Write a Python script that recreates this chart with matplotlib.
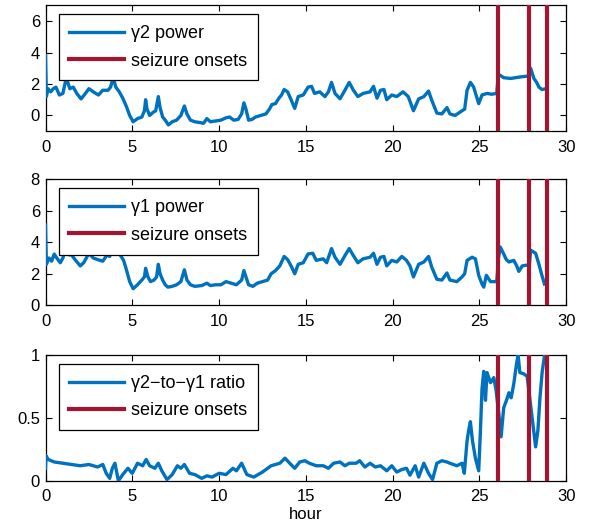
import matplotlib
matplotlib.use("Agg")
import matplotlib.pyplot as plt

plt.rcParams['font.family'] = ['Liberation Sans', 'DejaVu Sans']
plt.rcParams['axes.unicode_minus'] = True

# ---- data ----
hours_g2 = [0, 0.05, 0.15, 0.3, 0.45, 0.6, 0.8, 1.0, 1.2, 1.4, 1.6, 1.8, 2.05, 2.3, 2.5, 2.75, 3.05, 3.3, 3.6, 3.75,
            3.9, 4.05, 4.25, 4.45, 4.65, 4.85, 5.05, 5.3, 5.55, 5.7, 5.77, 5.85, 6.0, 6.2, 6.35, 6.5, 6.6, 6.75, 6.9,
            7.08, 7.3, 7.55, 7.8, 8.0, 8.15, 8.35, 8.6, 8.9, 9.1, 9.3, 9.5, 9.8, 10.1, 10.4, 10.6, 10.85, 11.1, 11.3,
            11.43, 11.55, 11.7, 11.9, 12.1, 12.4, 12.7, 12.9, 13.05, 13.25, 13.45, 13.6, 13.75, 13.95, 14.15, 14.36,
            14.56, 14.85, 15.13, 15.33, 15.5, 15.8, 16.1, 16.3, 16.48, 16.68, 16.97, 17.25, 17.5, 17.74, 18.0, 18.3,
            18.7, 18.9, 19.1, 19.3, 19.5, 19.66, 19.95, 20.24, 20.6, 20.9, 21.2, 21.5, 21.8, 22.07, 22.26, 22.55,
            22.84, 23.13, 23.3, 23.6, 24.0, 24.15, 24.29, 24.48, 24.67, 24.96, 25.15, 25.44, 25.7, 26.0, 26.08, 26.2,
            26.4, 26.8, 27.1, 27.37, 27.8, 27.95, 28.14, 28.3, 28.43, 28.6, 28.85]
gamma2 = [3.8, 1.2, 1.7, 1.5, 1.7, 1.8, 1.3, 1.4, 2.4, 1.7, 1.8, 1.4, 1.05, 1.4, 1.7, 1.5, 1.3, 1.6, 1.6, 1.8,
          2.4, 1.8, 1.5, 1.1, 0.6, 0.0, -0.4, -0.2, -0.1, 0.3, 1.0, 0.4, 0.0, 0.2, 0.3, 1.2, 0.5, -0.1, -0.3,
          -0.6, -0.4, -0.3, 0.0, 0.6, 0.1, -0.3, -0.4, -0.45, -0.5, -0.2, -0.4, -0.35, -0.3, -0.15, -0.1, -0.3,
          -0.25, 0.1, 0.8, 0.4, -0.3, -0.25, -0.1, 0.0, 0.1, 0.4, 0.7, 0.75, 1.1, 1.3, 1.65, 1.5, 1.0, 0.45,
          1.2, 1.3, 1.8, 1.85, 1.4, 1.5, 1.2, 1.5, 2.1, 1.4, 1.06, 1.6, 2.1, 1.6, 1.2, 1.4,
          1.5, 1.85, 1.1, 1.6, 1.65, 1.0, 1.3, 1.2, 1.5, 1.2, 0.3, 1.05, 1.2, 1.55, 0.95, 0.15,
          0.1, 0.5, 0.1, 0.0, 0.3, 0.4, 1.6, 2.1, 1.8, 0.75, 1.3, 1.4, 1.35, 1.4, 2.5, 2.55,
          2.4, 2.35, 2.4, 2.45, 2.5, 3.0, 2.35, 2.1, 1.8, 1.65, 1.7]

hours_g1 = [0, 0.05, 0.2, 0.35, 0.5, 0.65, 0.85, 1.0, 1.2, 1.35, 1.5, 1.7, 2.0, 2.2, 2.5, 2.75, 3.0, 3.3, 3.55,
            3.7, 3.9, 4.1, 4.3, 4.5, 4.65, 4.85, 5.05, 5.3, 5.55, 5.7, 5.77, 5.9, 6.05, 6.25, 6.4, 6.5, 6.6, 6.75,
            6.9, 7.05, 7.3, 7.55, 7.8, 8.0, 8.15, 8.35, 8.6, 9.0, 9.3, 9.5, 9.8, 10.1, 10.4, 10.7, 11.0, 11.3,
            11.43, 11.55, 11.7, 11.95, 12.2, 12.5, 12.8, 13.0, 13.25, 13.5, 13.75, 13.95, 14.15, 14.36, 14.56,
            14.85, 15.13, 15.4, 15.6, 16.0, 16.2, 16.48, 16.68, 16.97, 17.25, 17.5, 17.74, 18.0, 18.3, 18.7, 18.9,
            19.1, 19.3, 19.5, 19.66, 19.95, 20.24, 20.53, 20.8, 21.0, 21.2, 21.5, 21.8, 22.07, 22.26, 22.55, 22.84,
            23.13, 23.3, 23.7, 24.0, 24.15, 24.29, 24.58, 24.77, 24.96, 25.15, 25.25, 25.4, 25.64, 26.0, 26.1,
            26.2, 26.4, 26.55, 26.7, 26.98, 27.15, 27.27, 27.47, 27.75, 27.88, 27.95, 28.1, 28.24, 28.43, 28.6,
            28.75]
gamma1 = [5.1, 2.6, 3.0, 2.8, 3.25, 3.0, 2.7, 3.0, 3.8, 3.2, 3.2, 2.9, 2.5, 2.7, 3.3, 3.0, 2.9, 2.8, 3.2,
          3.1, 3.8, 3.3, 3.2, 2.85, 2.3, 1.5, 1.05, 1.3, 1.6, 1.8, 2.35, 1.8, 1.5, 1.6, 1.8, 2.6, 2.0, 1.6,
          1.3, 1.15, 1.2, 1.3, 1.5, 2.25, 1.6, 1.3, 1.2, 1.25, 1.4, 1.25, 1.3, 1.3, 1.5, 1.4, 1.3, 1.6,
          2.2, 1.8, 1.3, 1.2, 1.4, 1.5, 1.6, 2.0, 2.2, 2.5, 3.1, 2.9, 2.5, 2.0, 2.6,
          2.7, 3.26, 3.3, 2.85, 2.95, 2.7, 3.6, 3.05, 2.6, 3.15, 3.6, 3.15, 2.7, 2.95, 3.05, 3.3,
          2.6, 3.05, 3.1, 2.5, 2.85, 2.75, 3.1, 2.85, 2.5, 1.8, 2.6, 2.75, 3.1, 2.4, 1.65, 1.6,
          2.05, 1.6, 1.5, 1.8, 2.0, 2.85, 3.05, 2.95, 1.9, 1.35, 1.15, 1.9, 1.5, 1.5, 3.0,
          3.7, 3.26, 2.9, 2.75, 2.85, 2.5, 2.15, 2.5, 2.55, 2.55, 3.5, 3.4, 3.3, 2.6, 1.9,
          1.35]

hours_ratio = [0, 0.03, 0.15, 0.5, 1.0, 1.5, 2.0, 2.5, 3.0, 3.3, 3.5, 3.7, 3.85, 4.0, 4.2, 4.45, 4.75, 5.0, 5.3,
               5.6, 5.8, 6.0, 6.3, 6.5, 6.7, 7.0, 7.3, 7.6, 7.8, 8.0, 8.3, 8.6, 9.0, 9.3, 9.6, 10.0, 10.4, 10.8,
               11.0, 11.3, 11.6, 12.0, 12.5, 13.0, 13.5, 13.8, 14.07, 14.36, 14.65, 14.94, 15.2, 15.6, 16.0, 16.3,
               16.6, 16.97, 17.25, 17.5, 17.9, 18.1, 18.4, 18.7, 19.0, 19.3, 19.66, 19.95, 20.24, 20.53, 20.8,
               21.0, 21.3, 21.5, 21.8, 22.07, 22.3, 22.55, 22.84, 23.13, 23.3, 23.7, 24.0, 24.13, 24.29, 24.38,
               24.48, 24.6, 24.77, 24.96, 25.06, 25.15, 25.25, 25.35, 25.44, 25.64, 25.83, 25.96, 26.12, 26.25,
               26.4, 26.56, 26.7, 26.83, 26.98, 27.14, 27.23, 27.33, 27.56, 27.75, 27.9, 28.04, 28.24, 28.37,
               28.49, 28.62, 28.76]
ratio = [0.1, 0.2, 0.17, 0.15, 0.14, 0.13, 0.12, 0.13, 0.11, 0.13, 0.06, 0.02, 0.1, 0.14, 0.0, 0.05, 0.1, 0.06, 0.14,
         0.12, 0.17, 0.12, 0.1, 0.14, 0.08, 0.01, 0.05, 0.12, 0.1, 0.13, 0.06, 0.05, 0.02, 0.04, 0.03, 0.06, 0.05, 0.1,
         0.08, 0.14, 0.05, 0.03, 0.07, 0.12, 0.14, 0.18, 0.14, 0.1, 0.15, 0.16, 0.14, 0.12, 0.12, 0.1,
         0.14, 0.15, 0.12, 0.14, 0.14, 0.16, 0.11, 0.14, 0.11, 0.12, 0.08, 0.12, 0.07, 0.09, 0.1,
         0.045, 0.12, 0.03, 0.14, 0.06, 0.01, 0.14, 0.16, 0.15, 0.14, 0.12, 0.14, 0.06, 0.32, 0.4,
         0.47, 0.32, 0.18, 0.08, 0.4, 0.73, 0.87, 0.64, 0.86, 0.78, 0.82, 0.72, 0.53, 0.35,
         0.58, 0.64, 0.7, 0.66, 0.77, 0.93, 1.0, 0.86, 0.85, 0.83, 0.66, 0.5, 0.27, 0.4,
         0.66, 0.87, 1.0]

seizure_onsets = [26.05, 27.85, 28.9]

panels = [
    (hours_g2, gamma2, "γ2 power", (-1, 7), [0, 2, 4, 6], ["0", "2", "4", "6"]),
    (hours_g1, gamma1, "γ1 power", (0, 8), [0, 2, 4, 6, 8], ["0", "2", "4", "6", "8"]),
    (hours_ratio, ratio, "γ2−to−γ1 ratio", (0, 1), [0, 0.5, 1], ["0", "0.5", "1"]),
]
x_ticks = [0, 5, 10, 15, 20, 25, 30]

BLUE = "#0072BD"
RED = "#A2142F"

fig = plt.figure(figsize=(5.91, 5.29), dpi=100)
left, width, h = 0.077, 0.881, 0.238
bottoms = [0.752, 0.423, 0.091]

for (hx, vals, label, ylim, yt, ytl), b in zip(panels, bottoms):
    ax = fig.add_axes([left, b, width, h])
    ax.plot(hx, vals, color=BLUE, lw=2.4, solid_joinstyle='round', label=label, zorder=3)
    for i, s in enumerate(seizure_onsets):
        ax.axvline(s, color=RED, lw=3.0, zorder=4, label="seizure onsets" if i == 0 else None)
    ax.set_xlim(0, 30)
    ax.set_ylim(*ylim)
    ax.set_xticks(x_ticks)
    ax.set_xticklabels([str(t) for t in x_ticks])
    ax.set_yticks(yt)
    ax.set_yticklabels(ytl)
    ax.tick_params(direction='in', top=True, right=True, length=4.5, width=0.8,
                   labelsize=12, colors='black')
    ax.tick_params(axis='x', pad=6)
    ax.tick_params(axis='y', pad=4)
    for sp in ax.spines.values():
        sp.set_linewidth(0.9)
    leg = ax.legend(loc='upper left', bbox_to_anchor=(0.025, 0.928), borderaxespad=0,
                    fontsize=13, handlelength=3.0, handletextpad=0.4, fancybox=False,
                    frameon=True, edgecolor='black', framealpha=1, borderpad=0.6,
                    labelspacing=0.58)
    leg.get_frame().set_linewidth(0.9)
    if b == bottoms[-1]:
        ax.set_xlabel("hour", fontsize=12, labelpad=2)

fig.savefig("out.png", dpi=100)
